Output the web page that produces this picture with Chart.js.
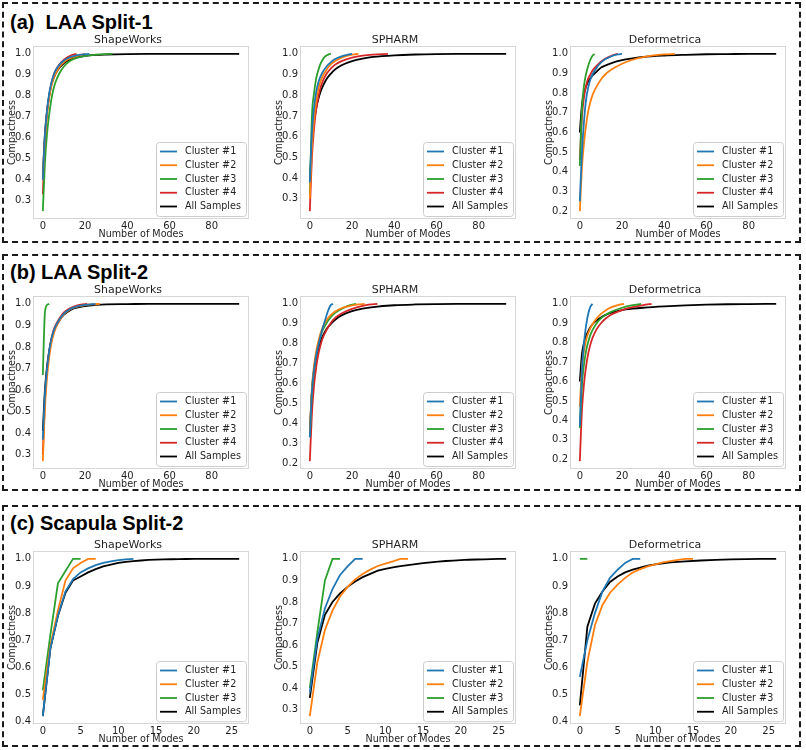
<!DOCTYPE html>
<html lang="en">
<head>
<meta charset="UTF-8">
<title>Compactness</title>
<script src="https://cdn.jsdelivr.net/npm/chart.js"></script>
<style>
    body { margin: 0; background: #fff; }
    #page { position: relative; width: 806px; height: 750px; overflow: hidden; }
    .panel { position: absolute; left: 2px; width: 799px; box-sizing: border-box; border: 2px dashed #1a1a1a; }
    .ptitle { position: absolute; left: 10px; font: bold 20px/23px "Liberation Sans", Arial, sans-serif; color: #000; white-space: pre; }
    canvas { position: absolute; }
</style>
</head>
<body>
<div id="page">
    <div class="panel" style="top:2px;height:241px"></div>
    <div class="panel" style="top:254px;height:237px"></div>
    <div class="panel" style="top:505px;height:242px"></div>
    <div class="ptitle" style="top:11px">(a)  LAA Split-1</div>
    <div class="ptitle" style="top:261px">(b) LAA Split-2</div>
    <div class="ptitle" style="top:512px">(c) Scapula Split-2</div>
</div>
<script>
// labels
const methods = ['ShapeWorks', 'SPHARM', 'Deformetrica'];
const namesLAA = ['Cluster #1', 'Cluster #2', 'Cluster #3', 'Cluster #4', 'All Samples'];
const namesScapula = ['Cluster #1', 'Cluster #2', 'Cluster #3', 'All Samples'];
const colorsLAA = ['#1f77b4', '#ff7f0e', '#2ca02c', '#d62728', '#000000'];
const colorsScapula = ['#1f77b4', '#ff7f0e', '#2ca02c', '#000000'];

// tick labels
const xTicksLAA = [0, 20, 40, 60, 80];
const xTicksScapula = [0, 5, 10, 15, 20, 25];
const yTicks02 = [0.2, 0.3, 0.4, 0.5, 0.6, 0.7, 0.8, 0.9, 1.0];
const yTicks03 = [0.3, 0.4, 0.5, 0.6, 0.7, 0.8, 0.9, 1.0];
const yTicks04 = [0.4, 0.5, 0.6, 0.7, 0.8, 0.9, 1.0];

// (a) LAA Split-1  [mode, compactness]
const aSwC1 = [[0,0.40],[1,0.61],[2,0.73],[3,0.81],[4,0.86],[5,0.895],[6,0.92],[8,0.95],[10,0.968],[12,0.98],[15,0.99],[18,0.996],[22,1.0]];
const aSwC2 = [[0,0.40],[1,0.59],[2,0.71],[3,0.79],[4,0.845],[5,0.88],[6,0.905],[8,0.94],[10,0.96],[12,0.974],[15,0.987],[18,0.995],[20,1.0]];
const aSwC3 = [[0,0.25],[1,0.48],[2,0.62],[3,0.71],[4,0.78],[5,0.83],[6,0.865],[8,0.91],[10,0.94],[12,0.96],[15,0.977],[20,0.99],[25,0.996],[30,0.999],[33,1.0]];
const aSwC4 = [[0,0.33],[1,0.58],[2,0.72],[3,0.80],[4,0.855],[5,0.895],[6,0.92],[8,0.952],[10,0.972],[12,0.986],[14,0.995],[16,1.0]];
const aSwAll = [[0,0.42],[1,0.62],[2,0.73],[3,0.80],[4,0.85],[5,0.88],[6,0.905],[8,0.935],[10,0.955],[12,0.968],[15,0.98],[20,0.99],[25,0.995],[30,0.997],[40,0.999],[50,1.0],[93,1.0]];

const aSpC1 = [[0,0.38],[1,0.62],[2,0.74],[3,0.815],[4,0.86],[5,0.89],[6,0.91],[8,0.94],[10,0.96],[12,0.975],[15,0.988],[18,0.996],[20,1.0]];
const aSpC2 = [[0,0.30],[1,0.55],[2,0.68],[3,0.77],[4,0.83],[5,0.865],[6,0.89],[8,0.925],[10,0.95],[12,0.965],[15,0.982],[18,0.992],[21,0.998],[23,1.0]];
const aSpC3 = [[0,0.32],[1,0.70],[2,0.81],[3,0.88],[4,0.92],[5,0.95],[6,0.97],[7,0.985],[8,0.993],[9,0.998],[10,1.0]];
const aSpC4 = [[0,0.24],[1,0.50],[2,0.64],[3,0.73],[4,0.79],[5,0.835],[6,0.865],[8,0.905],[10,0.93],[12,0.948],[15,0.965],[20,0.982],[25,0.991],[30,0.996],[37,1.0]];
const aSpAll = [[0,0.38],[1,0.57],[2,0.67],[3,0.735],[4,0.78],[5,0.815],[6,0.84],[8,0.88],[10,0.905],[12,0.925],[15,0.945],[20,0.965],[25,0.977],[30,0.985],[40,0.993],[50,0.997],[60,0.999],[70,1.0],[93,1.0]];

const aDfC1 = [[0,0.25],[1,0.50],[2,0.66],[3,0.77],[4,0.83],[5,0.87],[6,0.895],[8,0.93],[10,0.955],[12,0.972],[15,0.988],[18,0.997],[20,1.0]];
const aDfC2 = [[0,0.20],[1,0.42],[2,0.55],[3,0.64],[4,0.71],[5,0.755],[6,0.79],[8,0.835],[10,0.87],[12,0.895],[15,0.92],[20,0.95],[25,0.97],[30,0.983],[35,0.992],[40,0.997],[45,1.0]];
const aDfC3 = [[0,0.43],[1,0.72],[2,0.84],[3,0.90],[4,0.94],[5,0.97],[6,0.99],[7,1.0]];
const aDfC4 = [[0,0.46],[1,0.68],[2,0.78],[3,0.84],[4,0.875],[5,0.895],[6,0.915],[8,0.94],[10,0.96],[12,0.975],[15,0.99],[18,1.0]];
const aDfAll = [[0,0.60],[1,0.74],[2,0.80],[3,0.835],[4,0.86],[5,0.875],[6,0.89],[8,0.91],[10,0.93],[12,0.94],[15,0.953],[20,0.968],[25,0.977],[30,0.984],[40,0.991],[50,0.995],[60,0.998],[70,0.999],[80,1.0],[93,1.0]];

// (b) LAA Split-2
const bSwC1 = [[0,0.37],[1,0.58],[2,0.70],[3,0.78],[4,0.835],[5,0.87],[6,0.895],[8,0.93],[10,0.955],[12,0.97],[15,0.985],[20,0.995],[25,1.0]];
const bSwC2 = [[0,0.27],[1,0.52],[2,0.66],[3,0.75],[4,0.815],[5,0.855],[6,0.885],[8,0.925],[10,0.952],[12,0.968],[15,0.983],[20,0.994],[24,0.998],[27,1.0]];
const bSwC3 = [[0,0.67],[1,0.96],[2,0.995],[3,1.0]];
const bSwC4 = [[0,0.30],[1,0.55],[2,0.69],[3,0.775],[4,0.835],[5,0.875],[6,0.90],[8,0.935],[10,0.96],[12,0.975],[15,0.988],[18,0.996],[21,1.0]];
const bSwAll = [[0,0.41],[1,0.60],[2,0.71],[3,0.78],[4,0.83],[5,0.865],[6,0.89],[8,0.925],[10,0.95],[12,0.965],[15,0.98],[20,0.99],[25,0.995],[30,0.998],[40,0.999],[50,1.0],[93,1.0]];

const bSpC1 = [[0,0.33],[1,0.56],[2,0.67],[3,0.74],[4,0.79],[5,0.835],[6,0.875],[7,0.91],[8,0.945],[9,0.975],[10,0.995],[11,1.0]];
const bSpC2 = [[0,0.35],[1,0.58],[2,0.69],[3,0.76],[4,0.81],[5,0.85],[6,0.88],[8,0.92],[10,0.945],[12,0.962],[15,0.978],[20,0.992],[23,0.997],[26,1.0]];
const bSpC3 = [[0,0.33],[1,0.56],[2,0.67],[3,0.745],[4,0.795],[5,0.835],[6,0.865],[8,0.905],[10,0.935],[12,0.955],[15,0.975],[18,0.99],[22,1.0]];
const bSpC4 = [[0,0.21],[1,0.45],[2,0.59],[3,0.68],[4,0.745],[5,0.79],[6,0.825],[8,0.87],[10,0.905],[12,0.93],[15,0.952],[20,0.975],[25,0.99],[28,0.996],[32,1.0]];
const bSpAll = [[0,0.36],[1,0.56],[2,0.665],[3,0.73],[4,0.775],[5,0.81],[6,0.835],[8,0.875],[10,0.90],[12,0.92],[15,0.942],[20,0.963],[25,0.976],[30,0.984],[40,0.993],[50,0.997],[60,0.999],[70,1.0],[93,1.0]];

const bDfC1 = [[0,0.37],[1,0.65],[2,0.80],[3,0.89],[4,0.95],[5,0.985],[6,1.0]];
const bDfC2 = [[0,0.47],[1,0.67],[2,0.76],[3,0.815],[4,0.85],[5,0.875],[6,0.895],[8,0.925],[10,0.948],[12,0.965],[15,0.983],[18,0.994],[21,1.0]];
const bDfC3 = [[0,0.36],[1,0.58],[2,0.69],[3,0.76],[4,0.805],[5,0.84],[6,0.865],[8,0.90],[10,0.925],[12,0.942],[15,0.96],[20,0.98],[25,0.993],[29,1.0]];
const bDfC4 = [[0,0.19],[1,0.45],[2,0.59],[3,0.68],[4,0.745],[5,0.79],[6,0.825],[8,0.87],[10,0.90],[12,0.922],[15,0.945],[20,0.968],[25,0.983],[30,0.994],[34,1.0]];
const bDfAll = [[0,0.60],[1,0.74],[2,0.80],[3,0.835],[4,0.86],[5,0.88],[6,0.895],[8,0.915],[10,0.93],[12,0.942],[15,0.955],[20,0.968],[25,0.975],[30,0.98],[40,0.987],[50,0.992],[60,0.996],[70,0.998],[80,0.999],[93,1.0]];

// (c) Scapula Split-2
const cSwC1 = [[0,0.42],[1,0.67],[2,0.79],[3,0.88],[4,0.925],[5,0.95],[6,0.965],[7,0.977],[8,0.985],[9,0.991],[10,0.995],[11,0.998],[12,1.0]];
const cSwC2 = [[0,0.48],[1,0.68],[2,0.81],[3,0.92],[4,0.965],[5,0.985],[6,1.0],[7,1.0]];
const cSwC3 = [[0,0.515],[1,0.72],[2,0.91],[3,0.955],[4,1.0],[5,1.0]];
const cSwAll = [[0,0.42],[1,0.67],[2,0.79],[3,0.875],[4,0.92],[5,0.935],[6,0.95],[7,0.962],[8,0.972],[9,0.979],[10,0.985],[11,0.989],[12,0.992],[13,0.994],[14,0.996],[15,0.997],[16,0.998],[17,0.9985],[18,0.999],[19,0.9995],[20,1.0],[21,1.0],[22,1.0],[23,1.0],[24,1.0],[25,1.0],[26,1.0]];

const cSpC1 = [[0,0.38],[1,0.63],[2,0.77],[3,0.86],[4,0.925],[5,0.965],[6,1.0],[7,1.0]];
const cSpC2 = [[0,0.27],[1,0.52],[2,0.67],[3,0.76],[4,0.825],[5,0.87],[6,0.905],[7,0.93],[8,0.95],[9,0.967],[10,0.978],[11,0.988],[12,1.0],[13,1.0]];
const cSpC3 = [[0,0.40],[1,0.66],[2,0.90],[3,1.0],[4,1.0]];
const cSpAll = [[0,0.355],[1,0.61],[2,0.74],[3,0.80],[4,0.84],[5,0.87],[6,0.895],[7,0.915],[8,0.93],[9,0.945],[10,0.953],[11,0.96],[12,0.966],[13,0.971],[14,0.976],[15,0.98],[16,0.984],[17,0.987],[18,0.99],[19,0.992],[20,0.994],[21,0.996],[22,0.997],[23,0.998],[24,0.999],[25,1.0],[26,1.0]];

const cDfC1 = [[0,0.565],[1,0.70],[2,0.80],[3,0.88],[4,0.93],[5,0.96],[6,0.985],[7,1.0],[8,1.0]];
const cDfC2 = [[0,0.42],[1,0.62],[2,0.755],[3,0.83],[4,0.875],[5,0.905],[6,0.93],[7,0.95],[8,0.962],[9,0.972],[10,0.98],[11,0.987],[12,0.992],[13,0.996],[14,1.0],[15,1.0]];
const cDfC3 = [[0,1.0],[1,1.0]];
const cDfAll = [[0,0.46],[1,0.75],[2,0.835],[3,0.88],[4,0.915],[5,0.935],[6,0.95],[7,0.96],[8,0.968],[9,0.975],[10,0.98],[12,0.987],[14,0.991],[16,0.994],[18,0.996],[20,0.998],[22,0.999],[24,1.0],[26,1.0]];

const subplots = [
    { row: 0, col: 0, series: [aSwC1, aSwC2, aSwC3, aSwC4, aSwAll], xTicks: xTicksLAA, yTicks: yTicks03, smooth: true },
    { row: 0, col: 1, series: [aSpC1, aSpC2, aSpC3, aSpC4, aSpAll], xTicks: xTicksLAA, yTicks: yTicks03, smooth: true },
    { row: 0, col: 2, series: [aDfC1, aDfC2, aDfC3, aDfC4, aDfAll], xTicks: xTicksLAA, yTicks: yTicks02, smooth: true },
    { row: 1, col: 0, series: [bSwC1, bSwC2, bSwC3, bSwC4, bSwAll], xTicks: xTicksLAA, yTicks: yTicks03, smooth: true },
    { row: 1, col: 1, series: [bSpC1, bSpC2, bSpC3, bSpC4, bSpAll], xTicks: xTicksLAA, yTicks: yTicks02, smooth: true },
    { row: 1, col: 2, series: [bDfC1, bDfC2, bDfC3, bDfC4, bDfAll], xTicks: xTicksLAA, yTicks: yTicks02, smooth: true },
    { row: 2, col: 0, series: [cSwC1, cSwC2, cSwC3, cSwAll], xTicks: xTicksScapula, yTicks: yTicks04, smooth: false },
    { row: 2, col: 1, series: [cSpC1, cSpC2, cSpC3, cSpAll], xTicks: xTicksScapula, yTicks: yTicks03, smooth: false },
    { row: 2, col: 2, series: [cDfC1, cDfC2, cDfC3, cDfAll], xTicks: xTicksScapula, yTicks: yTicks04, smooth: false }
];

// page layout (plot box positions)
const boxLeft = [33, 300, 570];
const boxTop = [46, 296, 551];
const boxW = 216, boxH = 173;
const yAxisW = 26, titleH = 12, xAxisH = 21, padRight = 3;

Chart.defaults.font.family = '"DejaVu Sans", sans-serif';
Chart.defaults.color = '#1f1f1f';

// light grey box round the plot area
const framePlugin = {
    id: 'frame',
    beforeDatasetsDraw(chart) {
        const { ctx, chartArea: a } = chart;
        ctx.save();
        ctx.strokeStyle = '#d6d6d6';
        ctx.lineWidth = 1;
        ctx.strokeRect(Math.round(a.left) + 0.5, Math.round(a.top) + 0.5, Math.round(a.width) - 1, Math.round(a.height) - 1);
        ctx.restore();
    }
};

// matplotlib-like legend in the lower right corner
const insideLegend = {
    id: 'insideLegend',
    afterDatasetsDraw(chart) {
        const { ctx, chartArea: a } = chart;
        const sets = chart.data.datasets;
        const rowH = 13.75, w = 90, h = 19 + (sets.length - 1) * rowH;
        const x = Math.round(a.right - 3 - w), y = Math.round(a.bottom - 3 - h);
        ctx.save();
        ctx.beginPath();
        ctx.roundRect(x + 0.5, y + 0.5, w, h, 3);
        ctx.fillStyle = 'rgba(255,255,255,0.85)';
        ctx.fill();
        ctx.strokeStyle = '#cccccc';
        ctx.lineWidth = 1;
        ctx.stroke();
        ctx.font = '9.6px "DejaVu Sans"';
        ctx.textBaseline = 'middle';
        sets.forEach((ds, i) => {
            const cy = y + 9.5 + i * rowH;
            ctx.beginPath();
            ctx.moveTo(x + 4, cy);
            ctx.lineTo(x + 21, cy);
            ctx.strokeStyle = ds.borderColor;
            ctx.lineWidth = 1.8;
            ctx.stroke();
            ctx.fillStyle = '#1f1f1f';
            ctx.fillText(ds.label, x + 29, cy);
        });
        ctx.restore();
    }
};

const page = document.getElementById('page');

subplots.forEach(sp => {
    const names = sp.series.length === 5 ? namesLAA : namesScapula;
    const colors = sp.series.length === 5 ? colorsLAA : colorsScapula;

    // matplotlib style 5% margins round the data
    const xs = sp.series.flat().map(p => p[0]);
    const ys = sp.series.flat().map(p => p[1]);
    const xMin = Math.min(...xs), xMax = Math.max(...xs);
    const yMin = Math.min(...ys), yMax = Math.max(...ys);
    const xPad = (xMax - xMin) * 0.05, yPad = (yMax - yMin) * 0.05;

    const canvas = document.createElement('canvas');
    canvas.width = yAxisW + boxW + padRight;
    canvas.height = titleH + boxH + xAxisH;
    canvas.style.left = (boxLeft[sp.col] - yAxisW) + 'px';
    canvas.style.top = (boxTop[sp.row] - titleH) + 'px';
    page.appendChild(canvas);

    new Chart(canvas, {
        type: 'line',
        data: {
            datasets: sp.series.map((pts, i) => ({
                label: names[i],
                data: pts.map(p => ({ x: p[0], y: p[1] })),
                borderColor: colors[i],
                borderWidth: 1.8,
                pointRadius: 0,
                fill: false,
                tension: 0,
                cubicInterpolationMode: sp.smooth ? 'monotone' : 'default'
            }))
        },
        options: {
            responsive: false,
            animation: false,
            devicePixelRatio: 1,
            layout: { padding: { left: 0, right: padRight, top: 0, bottom: 0 } },
            plugins: {
                legend: { display: false },
                tooltip: { enabled: false },
                title: {
                    display: true,
                    text: methods[sp.col],
                    padding: 0,
                    font: { size: 11, weight: 'normal', lineHeight: '12px' },
                    color: '#1f1f1f'
                }
            },
            scales: {
                x: {
                    type: 'linear',
                    min: xMin - xPad,
                    max: xMax + xPad,
                    bounds: 'data',
                    grid: { display: false, drawTicks: false },
                    border: { display: false },
                    ticks: { padding: 1, font: { size: 10 }, maxRotation: 0, autoSkip: false },
                    title: { display: true, text: 'Number of Modes', padding: 0, font: { size: 9.6, lineHeight: 1.2 } },
                    afterBuildTicks: s => { s.ticks = sp.xTicks.map(v => ({ value: v })); },
                    afterFit: s => { s.height = xAxisH; }
                },
                y: {
                    type: 'linear',
                    min: yMin - yPad,
                    max: yMax + yPad,
                    bounds: 'data',
                    grid: { display: false, drawTicks: false },
                    border: { display: false },
                    ticks: { padding: 2, font: { size: 10 }, callback: v => v.toFixed(1) },
                    title: { display: true, text: 'Compactness', padding: 0, font: { size: 9.6, lineHeight: 1.2 } },
                    afterBuildTicks: s => { s.ticks = sp.yTicks.map(v => ({ value: v })); },
                    afterFit: s => { s.width = yAxisW; }
                }
            }
        },
        plugins: [framePlugin, insideLegend]
    });
});
</script>
</body>
</html>
